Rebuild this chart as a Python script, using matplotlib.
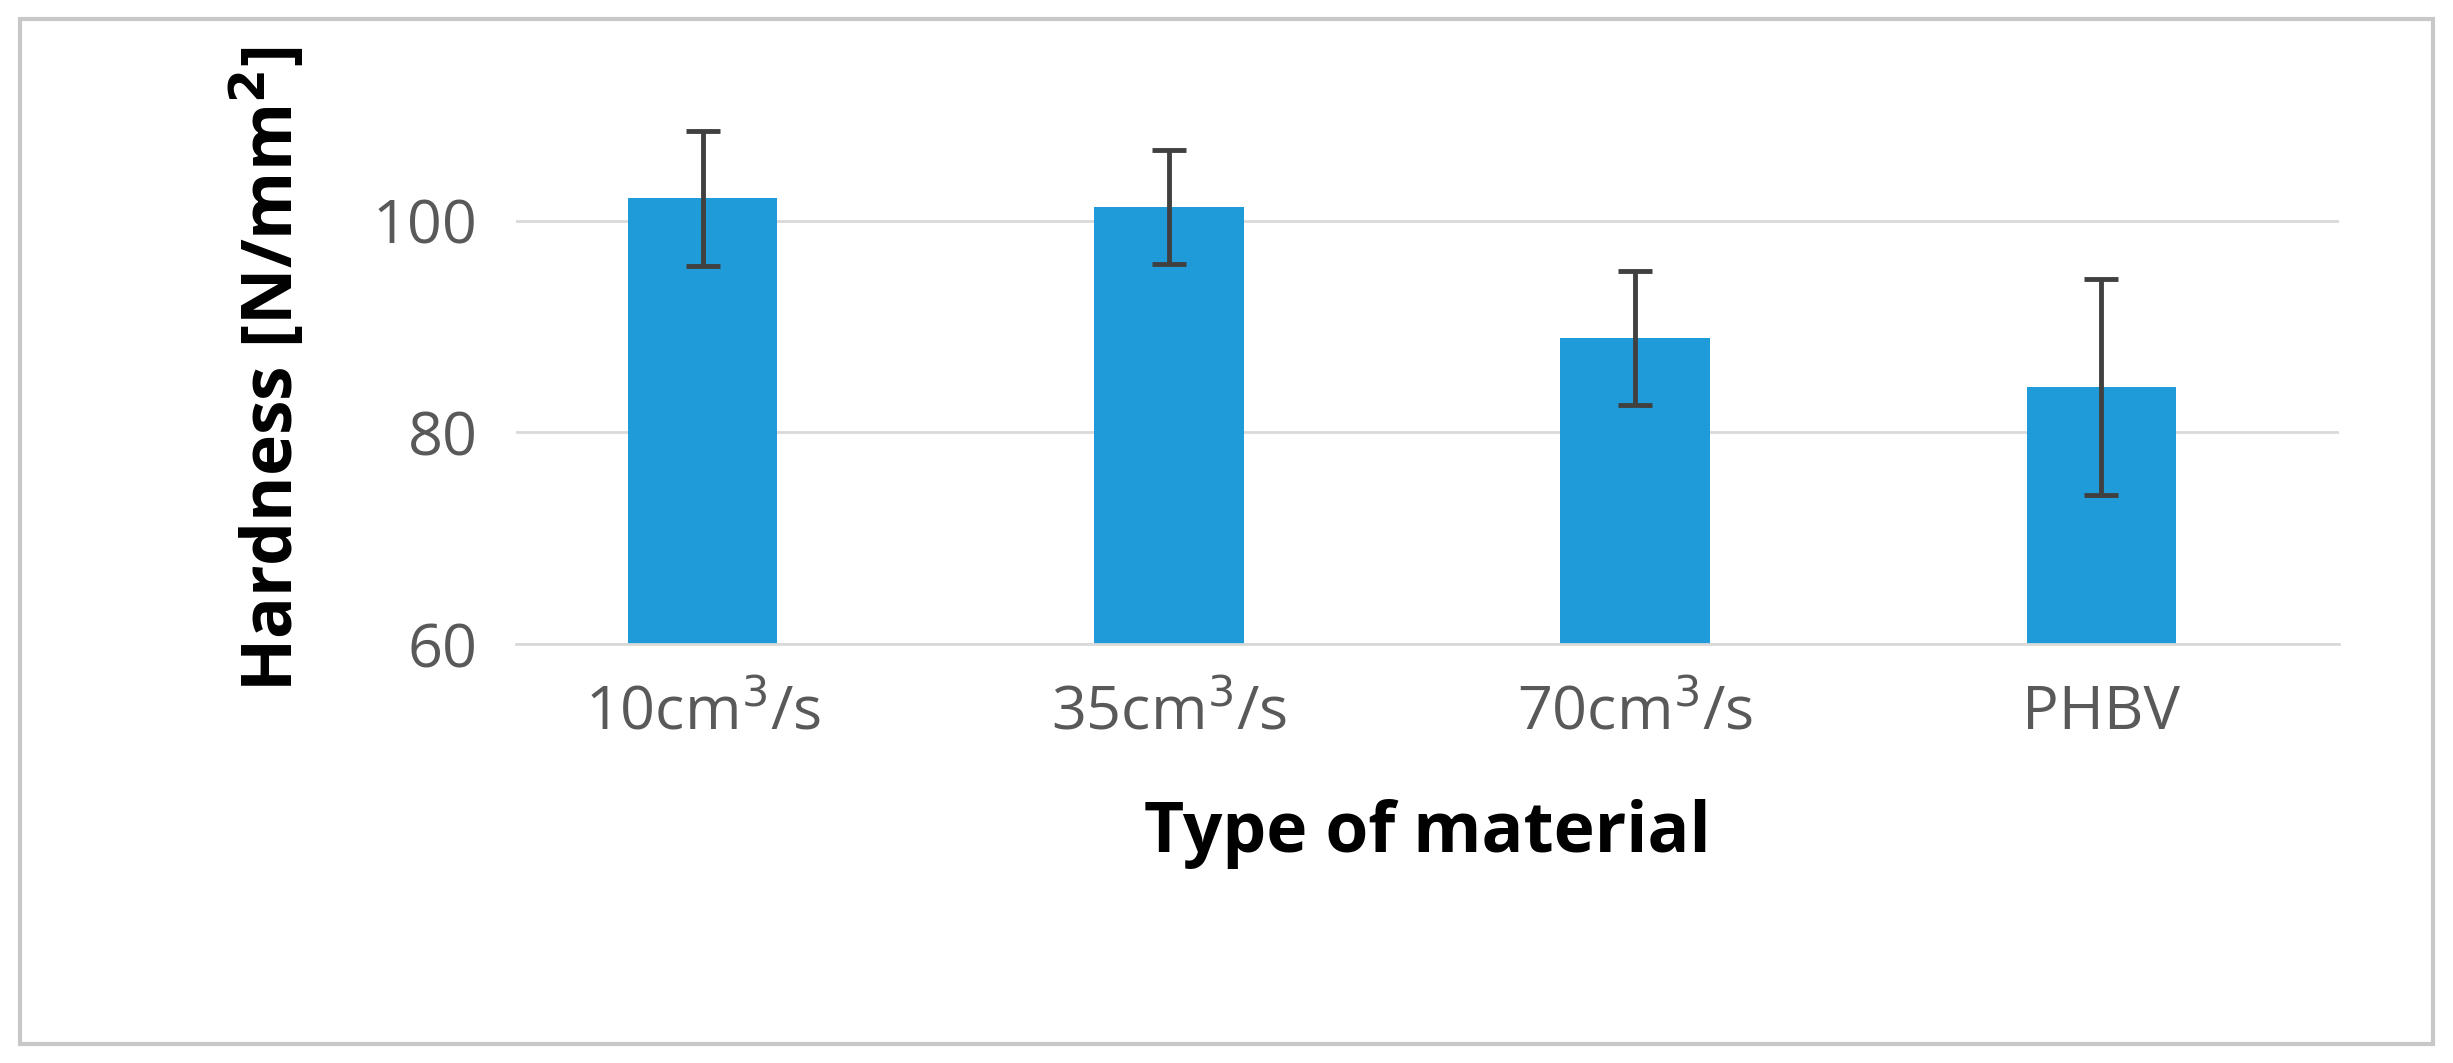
import matplotlib
matplotlib.use("Agg")
import matplotlib.pyplot as plt
from matplotlib.patches import Rectangle

categories = ["10cm$^3$/s", "35cm$^3$/s", "70cm$^3$/s", "PHBV"]
hardness = [102.1, 101.3, 88.9, 84.3]
errors = [6.4, 5.4, 6.3, 10.2]
yticks = [60, 80, 100]

fig = plt.figure(figsize=(24.53, 10.63), dpi=100)
fig.patches.append(Rectangle((0.008, 0.018), 0.984, 0.964, transform=fig.transFigure,
                             fill=False, edgecolor="#c8c8c8", linewidth=3))
ax = fig.add_axes([0.2105, 0.394, 0.743, 0.518])
x = range(len(categories))
ax.bar(x, hardness, width=0.32, color="#1f9bd9", zorder=2)
ax.errorbar(x, hardness, yerr=errors, fmt="none", ecolor="#404040", elinewidth=3.5,
            capsize=12, capthick=3.5, zorder=3)
ax.set_ylim(60, 112)
ax.set_xlim(-0.4, 3.51)
ax.set_yticks(yticks)
ax.yaxis.grid(True, color="#d9d9d9", linewidth=2, zorder=0)
for s in ["top", "right", "left"]:
    ax.spines[s].set_visible(False)
ax.spines["bottom"].set_color("#d9d9d9")
ax.spines["bottom"].set_linewidth(2)
ax.tick_params(length=0, labelsize=44, labelcolor="#595959", pad=28)
ax.set_xticks(list(x))
ax.set_xticklabels(categories, family="Open Sans")
for t in ax.get_yticklabels():
    t.set_family("Open Sans")
ax.set_xlabel("Type of material", fontsize=50, fontweight="bold", family="Open Sans", labelpad=40)
ax.set_ylabel("Hardness [N/mm$^\\mathbf{2}$]", fontsize=50, fontweight="bold", family="Open Sans", labelpad=45)
fig.savefig("out.png", dpi=100)
